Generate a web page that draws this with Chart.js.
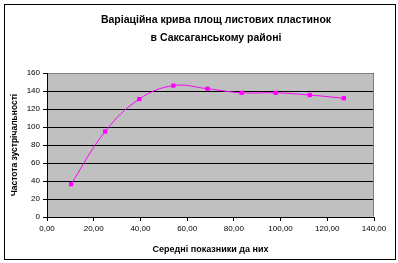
<!DOCTYPE html>
<html>
<head>
<meta charset="utf-8">
<script src="https://cdn.jsdelivr.net/npm/chart.js@4"></script>
<style>
  body { margin: 0; background: #fff; }
</style>
</head>
<body>
<canvas id="curveChart" width="398" height="263"></canvas>
<script>
const titleLines = ['Варіаційна крива площ листових пластинок', 'в Саксаганському районі'];
const xTitle = 'Середні показники да них';
const yTitle = 'Частота зустрічальності';
const xValues = [10.3, 24.9, 39.5, 54.1, 68.7, 83.3, 97.9, 112.5, 127.1];
const yValues = [36.5, 95, 131, 146, 142.5, 138, 138, 135.5, 132];

// plot background, frame and title
const decor = {
    id: 'decor',
    beforeDraw(chart) {
        const ctx = chart.ctx;
        const a = chart.chartArea;
        ctx.save();
        ctx.fillStyle = '#fff';
        ctx.fillRect(0, 0, chart.width, chart.height);
        ctx.fillStyle = '#C0C0C0';
        ctx.fillRect(a.left, a.top, a.right - a.left, a.bottom - a.top);
        ctx.strokeStyle = '#000';
        ctx.lineWidth = 1;
        ctx.strokeRect(4.5, 4.5, 391, 255);
        ctx.fillStyle = '#000';
        ctx.font = 'bold 10.5px "Liberation Sans", Arial, sans-serif';
        ctx.textAlign = 'center';
        ctx.textBaseline = 'middle';
        ctx.fillText(titleLines[0], 216, 20);
        ctx.fillText(titleLines[1], 216, 38);
        ctx.restore();
    },
    afterDraw(chart) {
        // grey border on top and right of the plot area
        const ctx = chart.ctx;
        const a = chart.chartArea;
        ctx.save();
        ctx.strokeStyle = '#808080';
        ctx.lineWidth = 1;
        ctx.beginPath();
        ctx.moveTo(a.left + 1, a.top + 0.5);
        ctx.lineTo(a.right - 0.5, a.top + 0.5);
        ctx.lineTo(a.right - 0.5, a.bottom - 1);
        ctx.stroke();
        ctx.restore();
    }
};

const ctx = document.getElementById('curveChart').getContext('2d');
new Chart(ctx, {
    type: 'line',
    data: {
        datasets: [{
            data: xValues.map((x, i) => ({ x: x, y: yValues[i] })),
            borderColor: '#FF00FF',
            backgroundColor: '#FF00FF',
            borderWidth: 1,
            tension: 0.4,
            pointStyle: 'rect',
            pointRadius: 3,
            pointBorderWidth: 0
        }]
    },
    options: {
        responsive: false,
        animation: false,
        devicePixelRatio: 1,
        layout: { padding: { left: 8, right: 24, top: 73, bottom: 0 } },
        plugins: { legend: { display: false }, tooltip: { enabled: false } },
        scales: {
            x: {
                type: 'linear',
                min: 0,
                max: 140,
                afterFit: (s) => { s.height = 46; },
                ticks: {
                    stepSize: 20,
                    color: '#000',
                    padding: 3,
                    font: { family: '"Liberation Sans", Arial', size: 8 },
                    callback: (v) => v.toFixed(2).replace('.', ',')
                },
                grid: { drawOnChartArea: false, color: '#000', tickLength: 4 },
                border: { color: '#000' },
                title: {
                    display: true,
                    text: xTitle,
                    color: '#000',
                    font: { family: '"Liberation Sans", Arial', size: 9, weight: 'bold' },
                    padding: { top: 0, bottom: 8 }
                }
            },
            y: {
                min: 0,
                max: 160,
                afterFit: (s) => { s.width = 39; },
                ticks: {
                    stepSize: 20,
                    color: '#000',
                    padding: 3,
                    font: { family: '"Liberation Sans", Arial', size: 8 }
                },
                grid: { color: '#000', tickLength: 4 },
                border: { color: '#000' },
                title: {
                    display: true,
                    text: yTitle,
                    color: '#000',
                    font: { family: '"Liberation Sans", Arial', size: 8.5, weight: 'bold' },
                    padding: { top: 2, bottom: 0 }
                }
            }
        }
    },
    plugins: [decor]
});
</script>
</body>
</html>
